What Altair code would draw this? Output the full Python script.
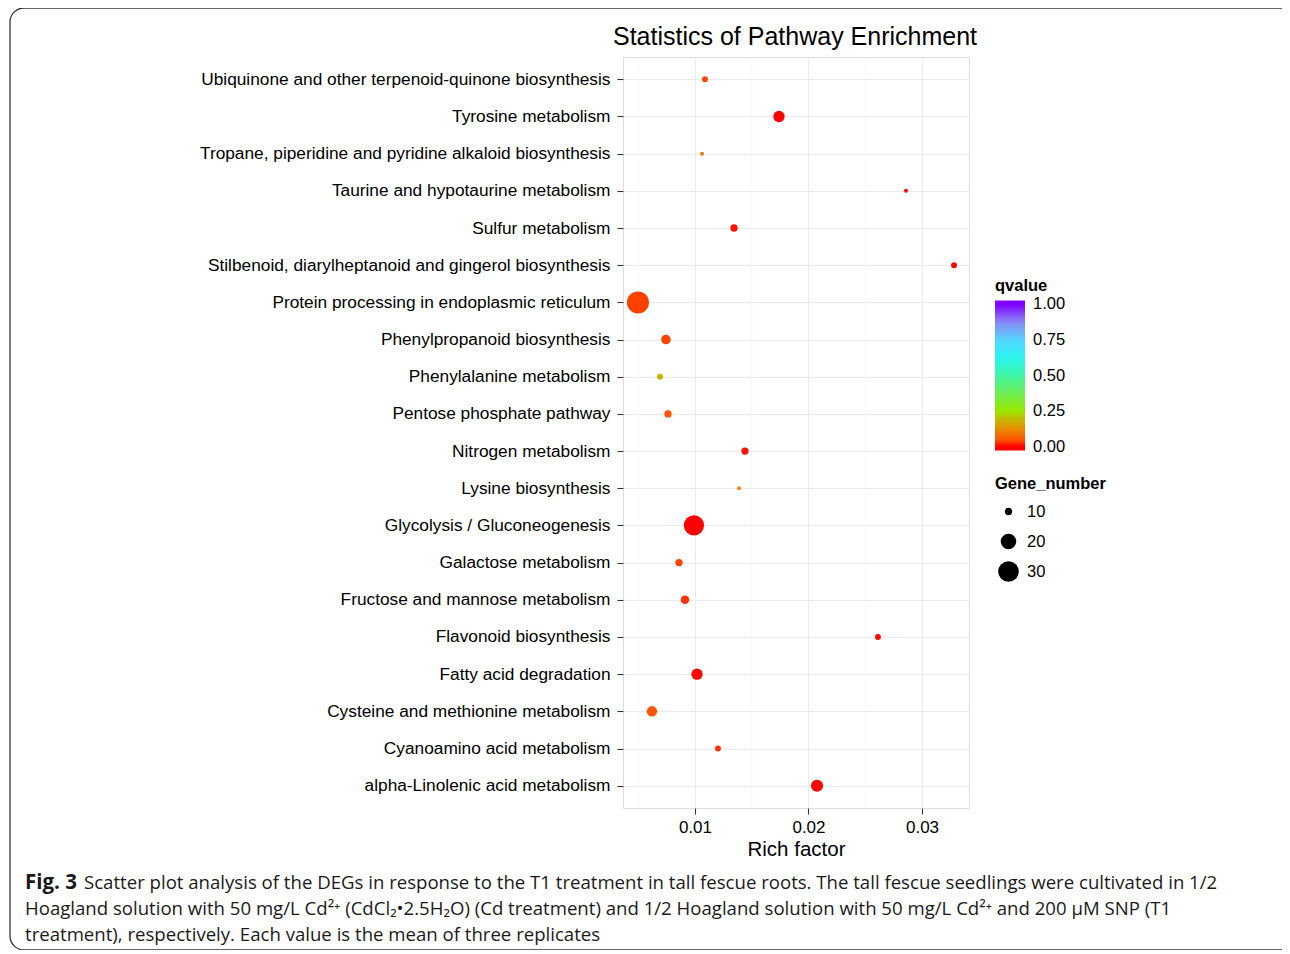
import altair as alt
import pandas as pd

pathways = [
    "Ubiquinone and other terpenoid-quinone biosynthesis",
    "Tyrosine metabolism",
    "Tropane, piperidine and pyridine alkaloid biosynthesis",
    "Taurine and hypotaurine metabolism",
    "Sulfur metabolism",
    "Stilbenoid, diarylheptanoid and gingerol biosynthesis",
    "Protein processing in endoplasmic reticulum",
    "Phenylpropanoid biosynthesis",
    "Phenylalanine metabolism",
    "Pentose phosphate pathway",
    "Nitrogen metabolism",
    "Lysine biosynthesis",
    "Glycolysis / Gluconeogenesis",
    "Galactose metabolism",
    "Fructose and mannose metabolism",
    "Flavonoid biosynthesis",
    "Fatty acid degradation",
    "Cysteine and methionine metabolism",
    "Cyanoamino acid metabolism",
    "alpha-Linolenic acid metabolism",
]
rich_factor = [0.01088, 0.01740, 0.01062, 0.02859, 0.01344, 0.03282, 0.00498, 0.00744,
               0.00692, 0.00762, 0.01440, 0.01388, 0.00991, 0.00859, 0.00912, 0.02612,
               0.01018, 0.00621, 0.01203, 0.02075]
gene_number = [9, 14, 8, 8, 10, 9, 33, 12, 9, 10, 10, 8, 29, 10, 11, 9, 14, 13, 9, 15]
qvalue = [0.04, 0.0, 0.10, 0.005, 0.01, 0.005, 0.038, 0.04, 0.18, 0.05, 0.01, 0.12,
          0.0, 0.04, 0.03, 0.005, 0.005, 0.05, 0.03, 0.003]
minor_breaks = [0.005, 0.015, 0.025]

title_text = "Statistics of Pathway Enrichment"
caption_bold = "Fig. 3"
caption_lines = [
    "Scatter plot analysis of the DEGs in response to the T1 treatment in tall fescue roots. The tall fescue seedlings were cultivated in 1/2",
    "Hoagland solution with 50 mg/L Cd²⁺ (CdCl₂•2.5H₂O) (Cd treatment) and 1/2 Hoagland solution with 50 mg/L Cd²⁺ and 200 μM SNP (T1",
    "treatment), respectively. Each value is the mean of three replicates",
]

df = pd.DataFrame({"pathway": pathways, "rich": rich_factor,
                   "genes": gene_number, "q": qvalue})
minor_df = pd.DataFrame({"rich": minor_breaks})

FONT = "Liberation Sans"
CAPFONT = "Open Sans"

xscale = alt.Scale(domain=[0.00366, 0.03414], nice=False, zero=False)
xaxis = alt.Axis(values=[0.01, 0.02, 0.03], format=".2f", title="Rich factor",
                 grid=True, gridColor="#EBEBEB", gridWidth=1.1,
                 domain=False, tickSize=6, tickColor="#333333", tickWidth=1.1,
                 labelFontSize=17, labelColor="#000000", labelFont=FONT,
                 labelPadding=5, titleFontSize=20.5, titleFont=FONT,
                 titleFontWeight="normal", titleColor="#000000", titlePadding=4)

minor = alt.Chart(minor_df).mark_rule(color="#F4F4F4", strokeWidth=0.7).encode(
    x=alt.X("rich:Q", scale=xscale, axis=xaxis)
)

color_scale = alt.Scale(
    domain=[-0.027, 0, 0.05, 0.12, 0.19, 0.25, 0.5, 0.625, 0.75, 0.875, 1, 1.027],
    range=["#FF0000", "#FF0000", "#FF5500", "#E88A00", "#C8B800", "#99E600",
           "#40F5A5", "#2AF5F0", "#55D5FF", "#8A8AF5", "#8000FF", "#8000FF"],
    interpolate="rgb",
)

points = alt.Chart(df).mark_circle(opacity=1).encode(
    x=alt.X("rich:Q", scale=xscale, axis=xaxis),
    y=alt.Y("pathway:N", sort=pathways,
            scale=alt.Scale(type="point", padding=0.6),
            axis=alt.Axis(title=None, grid=True, gridColor="#EBEBEB", gridWidth=1.1,
                          domain=False, tickSize=6, tickColor="#333333", tickWidth=1.1,
                          labelFontSize=17.3, labelColor="#000000", labelFont=FONT,
                          labelLimit=600, labelPadding=7)),
    color=alt.Color("q:Q", scale=color_scale,
                    legend=alt.Legend(title="qvalue", orient="none", legendX=372, legendY=221,
                                      direction="vertical", gradientLength=150,
                                      gradientThickness=30, values=[0, 0.25, 0.5, 0.75, 1],
                                      format=".2f", labelFontSize=16.5, labelFont=FONT,
                                      labelColor="#000000", titleFontSize=16.5,
                                      titleFont=FONT, titleColor="#000000",
                                      titlePadding=6, labelOffset=8, padding=0,
                                      labelBaseline="middle", gradientStrokeWidth=0)),
    size=alt.Size("genes:Q", scale=alt.Scale(domain=[8, 33], range=[16, 484]),
                  legend=alt.Legend(title="Gene_number", orient="none", legendX=372,
                                    legendY=419, values=[10, 20, 30],
                                    labelFontSize=16.5, labelFont=FONT,
                                    labelColor="#000000", titleFontSize=16.5,
                                    titleFont=FONT, titleColor="#000000",
                                    titlePadding=8, rowPadding=8, clipHeight=22,
                                    symbolFillColor="#000000", symbolStrokeWidth=0,
                                    symbolOpacity=1, symbolOffset=3,
                                    labelOffset=8, padding=0)),
)

border = alt.Chart(pd.DataFrame({"k": [0]})).mark_rect(
    fillOpacity=0, stroke="#333333", strokeWidth=1.3, cornerRadius=14
).encode(x=alt.value(-613), x2=alt.value(700), y=alt.value(-49), y2=alt.value(893))

title = alt.Chart(pd.DataFrame({"t": [title_text]})).mark_text(
    align="center", baseline="alphabetic", font=FONT, fontSize=25, color="#000000"
).encode(text="t:N", x=alt.value(172), y=alt.value(-12))

cap_layers = []
cap_layers.append(
    alt.Chart(pd.DataFrame({"t": [caption_bold]})).mark_text(
        align="left", baseline="alphabetic", font=CAPFONT, fontSize=20.5,
        fontWeight="bold", color="#1a1a1a"
    ).encode(text="t:N", x=alt.value(-598), y=alt.value(832))
)
cap_pos = [(-539, 832), (-598, 858), (-598, 884)]
for line, (cx, cy) in zip(caption_lines, cap_pos):
    cap_layers.append(
        alt.Chart(pd.DataFrame({"t": [line]})).mark_text(
            align="left", baseline="alphabetic", font=CAPFONT, fontSize=18.6,
            color="#1a1a1a"
        ).encode(text="t:N", x=alt.value(cx), y=alt.value(cy))
    )

chart = alt.layer(border, title, *cap_layers, minor, points).properties(
    width=346, height=751,
    autosize=alt.AutoSizeParams(type="none"),
    padding={"left": 615, "top": 49, "right": 313, "bottom": 142},
).configure_view(stroke="#333333", strokeWidth=1.1).configure(background="white")

chart.save("out.html", embed_options={"renderer": "svg", "actions": False})
